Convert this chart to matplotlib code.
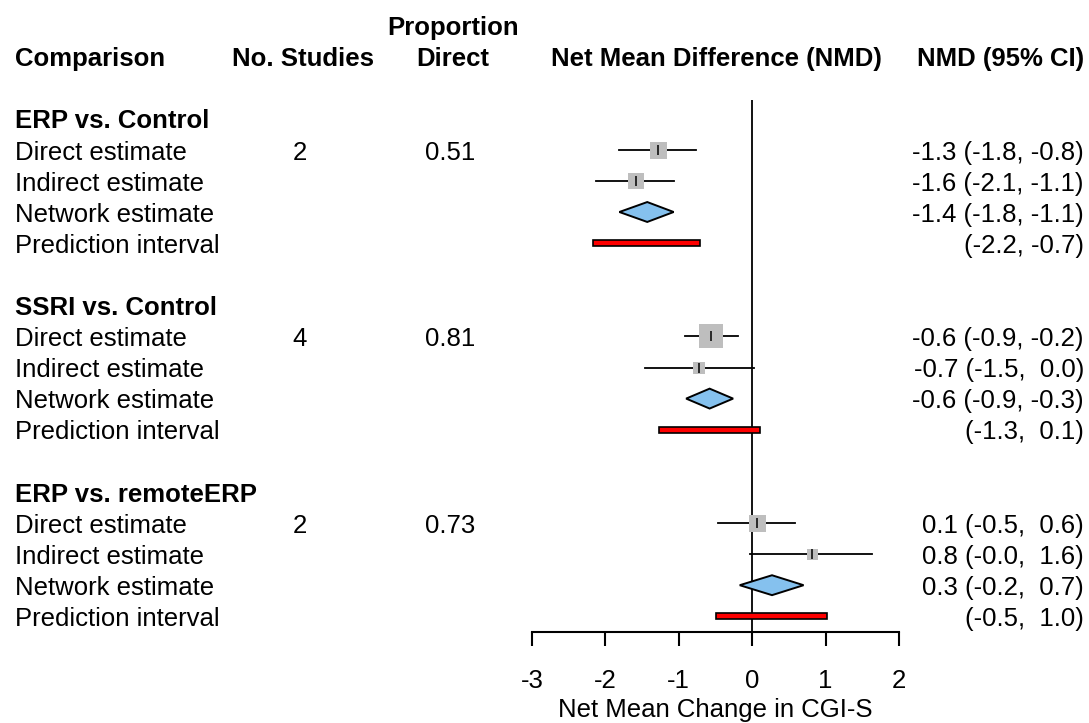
import matplotlib
matplotlib.use('Agg')
import matplotlib.pyplot as plt
from matplotlib.patches import Polygon, Rectangle
from matplotlib.transforms import blended_transform_factory

# data
comparisons = ['ERP vs. Control', 'SSRI vs. Control', 'ERP vs. remoteERP']
n_studies = [2, 4, 2]
prop_direct = [0.51, 0.81, 0.73]

direct_est = [-1.28, -0.56, 0.06]
direct_lo = [-1.82, -0.91, -0.46]
direct_hi = [-0.76, -0.19, 0.58]

indirect_est = [-1.585, -0.72, 0.81]
indirect_lo = [-2.13, -1.46, -0.03]
indirect_hi = [-1.06, 0.02, 1.63]

network_est = [-1.43, -0.58, 0.27]
network_lo = [-1.81, -0.90, -0.17]
network_hi = [-1.07, -0.26, 0.70]

pred_lo = [-2.17, -1.27, -0.50]
pred_hi = [-0.71, 0.10, 1.02]

row_labels = ['Direct estimate', 'Indirect estimate', 'Network estimate', 'Prediction interval']
xticks = [-3, -2, -1, 0, 1, 2]

# box sides in pixels (study weight)
direct_box = [17, 24, 17]
indirect_box = [16, 12.5, 11]

FS = 18.5
plt.rcParams['font.family'] = ['Liberation Sans', 'DejaVu Sans']

W, H = 1089, 723
fig = plt.figure(figsize=(W / 100, H / 100), dpi=100)

# row r sits at pixel y = 118.7 + 31.1*r
def row_of(py):
    return (py - 118.7) / 31.1

ax = fig.add_axes([532 / W, (H - 632) / H, 367 / W, 532 / H])
ax.set_xlim(-3, 2)
ax.set_ylim(row_of(632), row_of(100))
for s in ['top', 'right', 'left']:
    ax.spines[s].set_visible(False)
ax.spines['bottom'].set_linewidth(1.5)
ax.set_yticks([])
ax.set_xticks(xticks)
ax.set_xticklabels([str(t) for t in xticks])
ax.tick_params(axis='x', direction='out', length=10, width=1.5, pad=17, labelsize=FS)
ax.set_xlabel('Net Mean Change in CGI-S', fontsize=FS, labelpad=3)
ax.axvline(0, color='black', lw=1.3, zorder=1)

tr = blended_transform_factory(fig.transFigure, ax.transData)
TXT_DY = 0.09  # text sits a touch below the mark centre line

def put(px, r, s, ha='left', bold=False):
    ax.text(px / W, r + TXT_DY, s, transform=tr, ha=ha, va='center', fontsize=FS,
            fontweight='bold' if bold else 'normal')

# column headers
put(15, -2, 'Comparison', bold=True)
put(303, -2, 'No. Studies', ha='center', bold=True)
put(453, -3, 'Proportion', ha='center', bold=True)
put(453, -2, 'Direct', ha='center', bold=True)
put(716, -2, 'Net Mean Difference (NMD)', ha='center', bold=True)
put(1084, -2, 'NMD (95% CI)', ha='right', bold=True)

for i, comp in enumerate(comparisons):
    r0 = i * 6
    put(15, r0, comp, bold=True)
    for j, lab in enumerate(row_labels):
        put(15, r0 + 1 + j, lab)
    put(300, r0 + 1, str(n_studies[i]), ha='center')
    put(450, r0 + 1, '{:.2f}'.format(prop_direct[i]), ha='center')

    # direct + indirect: CI line, grey box, centre tick
    for k, (est, lo, hi, box) in enumerate([
            (direct_est[i], direct_lo[i], direct_hi[i], direct_box[i]),
            (indirect_est[i], indirect_lo[i], indirect_hi[i], indirect_box[i])]):
        r = r0 + 1 + k
        ax.plot([lo, hi], [r, r], color='black', lw=1.3, zorder=2, clip_on=False)
        ax.plot(est, r, marker='s', markersize=box * 0.72, color='#BEBEBE',
                markeredgewidth=0, zorder=3, clip_on=False)
        ax.plot(est, r, marker='|', markersize=6.5, color='black',
                markeredgewidth=1.1, zorder=4, clip_on=False)
        put(1084, r, '{:.1f} ({:.1f}, {:4.1f})'.format(est, lo, hi), ha='right')

    # network estimate diamond
    r = r0 + 3
    dh = 0.32
    ax.add_patch(Polygon([[network_lo[i], r], [network_est[i], r - dh],
                          [network_hi[i], r], [network_est[i], r + dh]],
                         closed=True, facecolor='#85C1EE', edgecolor='black',
                         lw=1.4, zorder=3, clip_on=False))
    put(1084, r, '{:.1f} ({:.1f}, {:4.1f})'.format(network_est[i], network_lo[i], network_hi[i]),
        ha='right')

    # prediction interval bar
    r = r0 + 4
    bh = 0.19
    ax.add_patch(Rectangle((pred_lo[i], r - bh / 2), pred_hi[i] - pred_lo[i], bh,
                           facecolor='#FF0000', edgecolor='black', lw=1.2,
                           zorder=3, clip_on=False))
    put(1084, r, '({:.1f}, {:4.1f})'.format(pred_lo[i], pred_hi[i]), ha='right')

fig.savefig('out.png', dpi=100)
